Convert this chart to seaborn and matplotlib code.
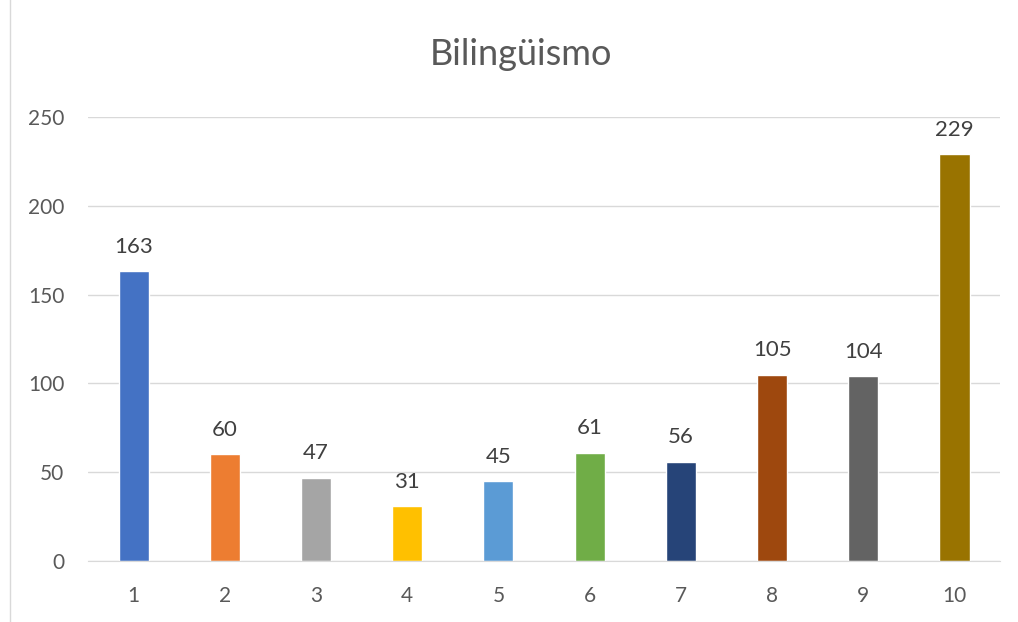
import matplotlib
matplotlib.use("Agg")
import matplotlib.pyplot as plt
import seaborn as sns
import pandas as pd

# data
categories = ["1", "2", "3", "4", "5", "6", "7", "8", "9", "10"]
values = [163, 60, 47, 31, 45, 61, 56, 105, 104, 229]
bar_colors = ["#4472C4", "#ED7D31", "#A5A5A5", "#FFC000", "#5B9BD5",
              "#70AD47", "#264478", "#9E480E", "#636363", "#997300"]
title = "Bilingüismo"

sns.set_style("white")
plt.rcParams['font.family'] = ['Lato', 'DejaVu Sans']

df = pd.DataFrame({"cat": categories, "val": values})

fig = plt.figure(figsize=(10.18, 6.22), dpi=100)
ax = fig.add_axes([0.0864, 0.098, 0.896, 0.714])

sns.barplot(data=df, x="cat", y="val", hue="cat", palette=bar_colors,
            width=0.33, legend=False, ax=ax, saturation=1)

ax.set_ylim(0, 250)
ax.set_yticks(range(0, 251, 50))
ax.yaxis.grid(True, color="#D9D9D9", linewidth=1)
ax.set_axisbelow(True)
for s in ["top", "right", "left"]:
    ax.spines[s].set_visible(False)
ax.spines["bottom"].set_color("#D9D9D9")
ax.tick_params(axis="both", length=0, labelsize=15, colors="#595959")
ax.tick_params(axis="x", pad=18)
ax.tick_params(axis="y", pad=17)
ax.set_xlabel("")
ax.set_ylabel("")

# value labels
for i, v in enumerate(values):
    ax.text(i, v + 8, str(v), ha="center", va="bottom", fontsize=16, color="#404040")

fig.text(0.512, 0.912, title, ha="center", va="center", fontsize=26, color="#595959")

# chart area border
fig.patches.append(plt.Rectangle((0.01, -0.01), 1.2, 1.2, transform=fig.transFigure,
                                 fill=False, edgecolor="#D9D9D9", linewidth=1))

fig.savefig("out.png", dpi=100)
